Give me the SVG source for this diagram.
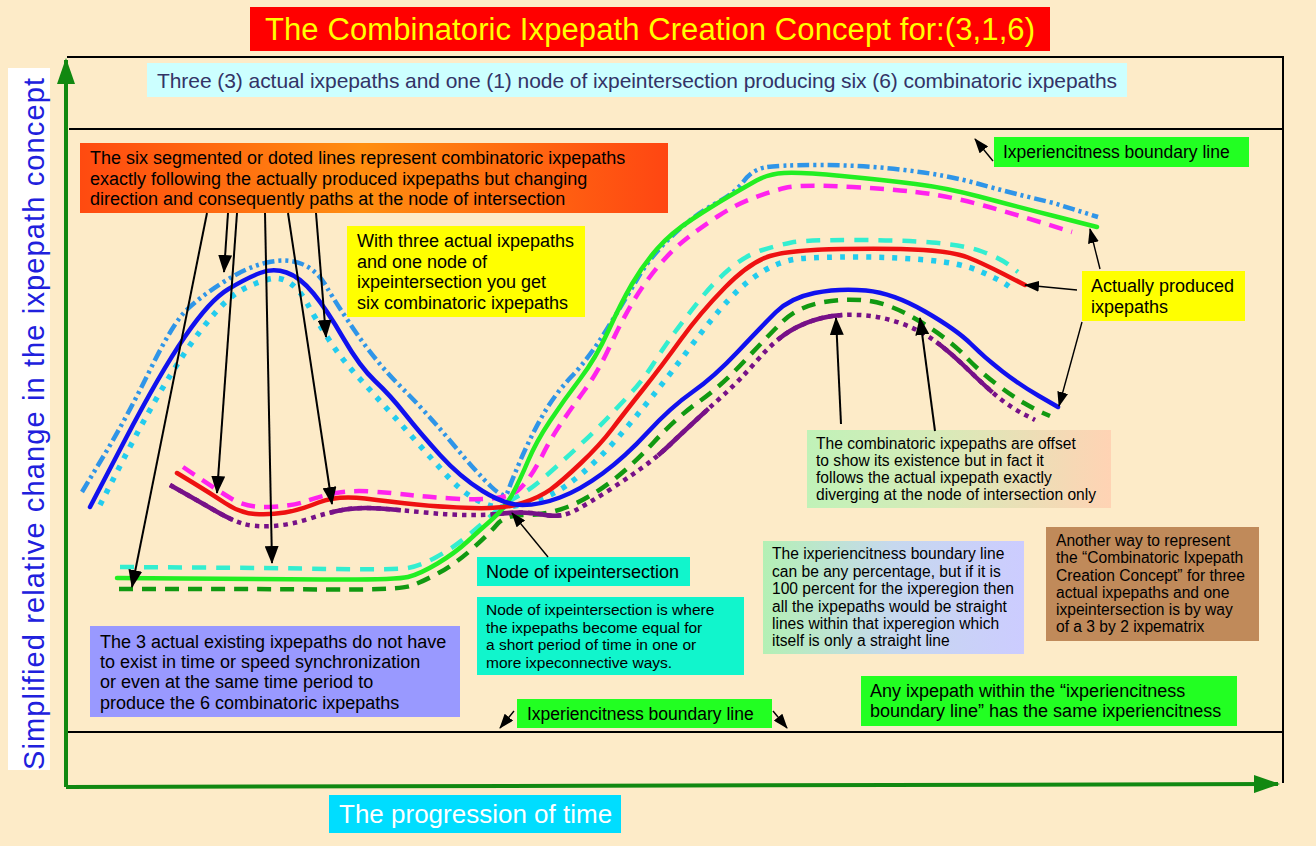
<svg xmlns="http://www.w3.org/2000/svg" width="1316" height="846" viewBox="0 0 1316 846">
<defs>
<style>
text{font-family:"Liberation Sans",Arial,sans-serif;fill:#000}
.t16{font-size:18px}
.t14{font-size:15.6px}
.frame{stroke:#000;stroke-width:2;fill:none}
.c{fill:none;stroke-linejoin:round}
.act{stroke-width:4.5;stroke-linecap:round}
.arr{stroke:#000;stroke-width:2;fill:none;marker-end:url(#ah)}
.arr2{stroke:#000;stroke-width:1.4;fill:none;marker-end:url(#ah2)}
</style>
<marker id="ah" markerUnits="userSpaceOnUse" markerWidth="18" markerHeight="14" refX="17" refY="7" orient="auto"><path d="M0,0L18,7L0,14z" fill="#000"/></marker>
<marker id="ah2" markerUnits="userSpaceOnUse" markerWidth="15" markerHeight="11" refX="14" refY="5.5" orient="auto"><path d="M0,0L15,5.5L0,11z" fill="#000"/></marker>
<marker id="gah" markerUnits="userSpaceOnUse" markerWidth="26" markerHeight="18" refX="24" refY="9" orient="auto"><path d="M0,0L26,9L0,18z" fill="#118811"/></marker>
<linearGradient id="gOr" x1="0" y1="0" x2="1" y2="0"><stop offset="0" stop-color="#FF4A10"/><stop offset="0.48" stop-color="#FF8E10"/><stop offset="1" stop-color="#FF4612"/></linearGradient>
<linearGradient id="gGp" x1="0" y1="0" x2="1" y2="0"><stop offset="0" stop-color="#C0F2B8"/><stop offset="0.45" stop-color="#D8EAB8"/><stop offset="1" stop-color="#FFD3B4"/></linearGradient>
<linearGradient id="gGl" x1="0" y1="0" x2="1" y2="0"><stop offset="0" stop-color="#B4F0B4"/><stop offset="0.5" stop-color="#C6D8EE"/><stop offset="1" stop-color="#CCCCFF"/></linearGradient>
</defs>
<rect width="1316" height="846" fill="#FDEBC8"/>

<g id="frame">
<path class="frame" d="M67,57H1283V783"/>
<path class="frame" d="M69,129H1283"/>
<path class="frame" d="M66,732H1283"/>
<line x1="66" y1="787" x2="1278" y2="784" stroke="#118811" stroke-width="4" marker-end="url(#gah)"/>
<line x1="66" y1="787" x2="66" y2="60" stroke="#118811" stroke-width="4" marker-end="url(#gah)"/>
</g>

<g id="title">
<rect x="250" y="7" width="800" height="44" fill="#FF0000"/>
<text x="650" y="40" text-anchor="middle" textLength="770" style="font-size:31px;fill:#FFFF00">The Combinatoric Ixpepath Creation Concept for:(3,1,6)</text>
</g>

<g id="subtitle">
<rect x="147" y="63" width="980" height="34" fill="#CCFFFF"/>
<text x="157" y="88" textLength="960" style="font-size:21px;fill:#333366">Three (3) actual ixpepaths and one (1) node of ixpeintersection producing six (6) combinatoric ixpepaths</text>
</g>

<g id="ylabel">
<rect x="8" y="68" width="42" height="702" fill="#FFFFFF"/>
<text transform="translate(44,424) rotate(-90)" text-anchor="middle" textLength="692" style="font-size:29px;fill:#2020DD">Simplified relative change in the ixpepath concept</text>
</g>

<g id="xlabel">
<rect x="329" y="795" width="292" height="38" fill="#00DDFF"/>
<text x="339" y="823" style="font-size:26px;fill:#FFFFFF">The progression of time</text>
</g>

<g id="ixpepaths">
<path class="c" stroke="#2F95E8" stroke-width="4.5" stroke-dasharray="12 4 3 4 3 4" d="M82,492 L104.5,454.5 Q127,417 150,370 Q173,323 186.5,310 Q200,297 223.5,282 Q247,267 267,262.5 Q287,258 302,264 Q317,270 327,287.5 Q337,305 357,334 Q377,363 402,388 Q427,413 452,443 Q477,473 491,486.5 Q505,500 507.5,492.5 Q510,485 519.5,462.5 Q529,440 541.5,417.5 Q554,395 571.5,376.5 Q589,358 607,329 Q625,300 637.5,278.5 Q650,257 672,236 Q694,215 714.5,204 Q735,193 743.5,181.5 Q752,170 764.5,167.5 Q777,165 819.5,165 Q862,165 904.5,170 Q947,175 979,184 Q1011,193 1053.5,203 L1098,217"/>
<path class="c" stroke="#22CCEE" stroke-width="5.5" stroke-dasharray="5 8" d="M100,505 L120,466 Q140,427 155,401 Q170,375 185,352.5 Q200,330 215,313 Q230,296 242.5,289.5 Q255,283 267.5,279.5 Q280,276 290,283 Q300,290 307.5,304 Q315,318 327.5,337.5 Q340,357 355,373.5 Q370,390 385,406.5 Q400,423 415,440 Q430,457 445,473.5 Q460,490 472.5,497.5 Q485,505 495,506.5 Q505,508 520,505 Q535,502 550,495 Q565,488 582.5,473 Q600,458 617.5,438 Q635,418 653,395.5 Q671,373 691.5,345.5 Q712,318 728.5,300 Q745,282 763.5,271 Q782,260 801.5,258.5 Q821,257 857,257 Q893,257 927,260 Q961,263 980.5,271.5 Q1000,280 1007,285 L1014,290"/>
<path class="c" stroke="#FF22EE" stroke-width="4.5" stroke-dasharray="14 9" d="M183,467 L200,478.5 Q217,490 232,499 Q247,508 270,507 Q293,506 305,501.5 Q317,497 333.5,493.5 Q350,490 371.5,491.5 Q393,493 410,495 Q427,497 452,498.5 Q477,500 492,498.5 Q507,497 513.5,493.5 Q520,490 527.5,480 Q535,470 542.5,455 Q550,440 560,425 Q570,410 584,391 Q598,372 610,346 Q622,320 633.5,301 Q645,282 658.5,266 Q672,250 686,239 Q700,228 717.5,216.5 Q735,205 752,198.5 Q769,192 784.5,188 Q800,184 852.5,187 Q905,190 930.5,194 Q956,198 983.5,205.5 Q1011,213 1041.5,222.5 L1072,232"/>
<path class="c" stroke="#33EED0" stroke-width="4.5" stroke-dasharray="14 10" d="M120,567 L195,567.5 Q270,568 333,569 Q396,570 408,568 Q420,566 436.5,557 Q453,548 468,535.5 Q483,523 494,513 Q505,503 517.5,496.5 Q530,490 547,475 Q564,460 580,445 Q596,430 607,418.5 Q618,407 630.5,393.5 Q643,380 653.5,363.5 Q664,347 675,332 Q686,317 700,299.5 Q714,282 730,268.5 Q746,255 762.5,250 Q779,245 791.5,242.5 Q804,240 852,240 Q900,240 932,242.5 Q964,245 982,251.5 Q1000,258 1009,265 L1018,272"/>
<path class="c" stroke="#119911" stroke-width="4.5" stroke-dasharray="14 9" d="M119,589 L189.5,589 Q260,589 330,589.5 Q400,590 412,585.5 Q424,581 439.5,572.5 Q455,564 472,549 Q489,534 497,524.5 Q505,515 525.5,515 Q546,515 566,507.5 Q586,500 608.5,483.5 Q631,467 654,442 Q677,417 698.5,402 Q720,387 743.5,362 Q767,337 781.5,322.5 Q796,308 819,303 Q842,298 866,300.5 Q890,303 920,321.5 Q950,340 964,355 Q978,370 995,383 Q1012,396 1024,403 Q1036,410 1043,413 L1050,416"/>
<path class="c" stroke="#771188" stroke-width="4.5" stroke-dasharray="4.5 5" d="M170,485 L185,493.5 Q200,502 216.5,511.5 Q233,521 244,524 Q255,527 272.5,526 Q290,525 310,518.5 Q330,512 345,509.5 Q360,507 380,508.5 Q400,510 425,512.5 Q450,515 470,515 Q490,515 497.5,514 Q505,513 517.5,512.5 Q530,512 545.5,515 Q561,518 575,510.5 Q589,503 607,491.5 Q625,480 641,468.5 Q657,457 668.5,446 Q680,435 693.5,422.5 Q707,410 723.5,395 Q740,380 757.5,360 Q775,340 790,331 Q805,322 822,318 Q839,314 859.5,315 Q880,316 900,323 Q920,330 935,341 Q950,352 969.5,371 Q989,390 1000.5,399 Q1012,408 1023.5,414 L1035,420"/>
<path class="c" stroke="#771188" stroke-width="4.5" stroke-dasharray="72 100 71 90 71 114 69 98 70 103 72 400" d="M170,485 L185,493.5 Q200,502 216.5,511.5 Q233,521 244,524 Q255,527 272.5,526 Q290,525 310,518.5 Q330,512 345,509.5 Q360,507 380,508.5 Q400,510 425,512.5 Q450,515 470,515 Q490,515 497.5,514 Q505,513 517.5,512.5 Q530,512 545.5,515 Q561,518 575,510.5 Q589,503 607,491.5 Q625,480 641,468.5 Q657,457 668.5,446 Q680,435 693.5,422.5 Q707,410 723.5,395 Q740,380 757.5,360 Q775,340 790,331 Q805,322 822,318 Q839,314 859.5,315 Q880,316 900,323 Q920,330 935,341 Q950,352 969.5,371 Q989,390 1000.5,399 Q1012,408 1023.5,414 L1035,420"/>
<path class="c act" stroke="#22EE22" d="M117,578 L183.5,578.5 Q250,579 323,579.5 Q396,580 408,577 Q420,574 437.5,563.5 Q455,553 467.5,541.5 Q480,530 492.5,519 Q505,508 512.5,494 Q520,480 528,461 Q536,442 550,421 Q564,400 580,379 Q596,358 608.5,330.5 Q621,303 632,284 Q643,265 657,249 Q671,233 692.5,219 Q714,205 729.5,196 Q745,187 756.5,180.5 Q768,174 784,173 Q800,172 842,176 Q884,180 915.5,184 Q947,188 979,196.5 Q1011,205 1054,216 L1097,227"/>
<path class="c act" stroke="#EE1111" d="M177,473 L193.5,483 Q210,493 225,503 Q240,513 255,514 Q270,515 285,512.5 Q300,510 318.5,502.5 Q337,495 365,498.5 Q393,502 416.5,504.5 Q440,507 472.5,508 Q505,509 522.5,503 Q540,497 550.5,489.5 Q561,482 580.5,463.5 Q600,445 612.5,428.5 Q625,412 643,389.5 Q661,367 680.5,340 Q700,313 725,287.5 Q750,262 770,256 Q790,250 841.5,249 Q893,248 923.5,250 Q954,252 968,257.5 Q982,263 1003.5,274 L1025,285"/>
<path class="c act" stroke="#1111EE" d="M90,507 L125,440 Q160,373 185,336.5 Q210,300 228.5,289 Q247,278 260,273 Q273,268 286.5,272.5 Q300,277 313.5,293.5 Q327,310 343.5,338.5 Q360,367 375,381 Q390,395 405,414 Q420,433 440,455 Q460,477 482.5,491 Q505,505 522.5,505 Q540,505 560,497.5 Q580,490 602.5,473.5 Q625,457 648,432 Q671,407 692.5,392 Q714,377 737.5,352 Q761,327 775.5,312.5 Q790,298 814.5,293 Q839,288 866,290.5 Q893,293 925,311.5 Q957,330 971,344 Q985,358 1002.5,371.5 Q1020,385 1039,396 L1058,407"/>
</g>

<g id="n-six-lines">
<rect x="80" y="143" width="588" height="70" fill="url(#gOr)"/>
<text class="t16" x="90" y="164">The six segmented or doted lines represent combinatoric ixpepaths</text>
<text class="t16" x="90" y="185">exactly following the actually produced ixpepaths but changing</text>
<text class="t16" x="90" y="205">direction and consequently paths at the node of intersection</text>
</g>

<g id="n-boundary-top">
<rect x="994" y="137" width="255" height="30" fill="#22FF22"/>
<text x="1003" y="158" style="font-size:17.5px">Ixperiencitness boundary line</text>
</g>

<g id="n-with-three">
<rect x="347" y="226" width="238" height="91" fill="#FFFF00"/>
<text class="t16" x="357" y="247">With three actual ixpepaths</text>
<text class="t16" x="357" y="268">and one node of</text>
<text class="t16" x="357" y="288">ixpeintersection you get</text>
<text class="t16" x="357" y="309">six combinatoric ixpepaths</text>
</g>

<g id="n-actual">
<rect x="1082" y="271" width="163" height="50" fill="#FFFF00"/>
<text class="t16" x="1091" y="292">Actually produced</text>
<text class="t16" x="1091" y="313">ixpepaths</text>
</g>

<g id="n-offset">
<rect x="807" y="430" width="304" height="78" fill="url(#gGp)"/>
<text class="t14" x="816" y="449">The combinatoric ixpepaths are offset</text>
<text class="t14" x="816" y="466">to show its existence but in fact it</text>
<text class="t14" x="816" y="483">follows the actual ixpepath exactly</text>
<text class="t14" x="816" y="500">diverging at the node of intersection only</text>
</g>

<g id="n-node">
<rect x="477" y="557" width="213" height="29" fill="#11F5CC"/>
<text class="t16" x="486" y="578">Node of ixpeintersection</text>
</g>

<g id="n-node-desc">
<rect x="477" y="597" width="267" height="78" fill="#11F5CC"/>
<text style="font-size:15.5px" x="486" y="615">Node of ixpeintersection is where</text>
<text style="font-size:15.5px" x="486" y="633">the ixpepaths become equal for</text>
<text style="font-size:15.5px" x="486" y="650">a short period of time in one or</text>
<text style="font-size:15.5px" x="486" y="668">more ixpeconnective ways.</text>
</g>

<g id="n-three-actual">
<rect x="90" y="626" width="370" height="91" fill="#9999FF"/>
<text class="t16" x="100" y="648">The 3 actual existing ixpepaths do not have</text>
<text class="t16" x="100" y="668">to exist in time or speed synchronization</text>
<text class="t16" x="100" y="688">or even at the same time period to</text>
<text class="t16" x="100" y="709">produce the 6 combinatoric ixpepaths</text>
</g>

<g id="n-percentage">
<rect x="763" y="541" width="261" height="113" fill="url(#gGl)"/>
<text class="t14" x="772" y="559">The ixperiencitness boundary line</text>
<text class="t14" x="772" y="577">can be any percentage, but if it is</text>
<text class="t14" x="772" y="594">100 percent for the ixperegion then</text>
<text class="t14" x="772" y="612">all the ixpepaths would be straight</text>
<text class="t14" x="772" y="629">lines within that ixperegion which</text>
<text class="t14" x="772" y="646">itself is only a straight line</text>
</g>

<g id="n-matrix">
<rect x="1046" y="527" width="213" height="114" fill="#C08A5A"/>
<text class="t14" x="1056" y="546">Another way to represent</text>
<text class="t14" x="1056" y="563">the “Combinatoric Ixpepath</text>
<text class="t14" x="1056" y="581">Creation Concept” for three</text>
<text class="t14" x="1056" y="598">actual ixpepaths and one</text>
<text class="t14" x="1056" y="615">ixpeintersection is by way</text>
<text class="t14" x="1056" y="632">of a 3 by 2 ixpematrix</text>
</g>

<g id="n-any-ixpepath">
<rect x="861" y="676" width="376" height="50" fill="#22FF22"/>
<text class="t16" x="870" y="697">Any ixpepath within the “ixperiencitness</text>
<text class="t16" x="870" y="717">boundary line” has the same ixperiencitness</text>
</g>

<g id="n-boundary-bottom">
<rect x="517" y="699" width="255" height="29" fill="#22FF22"/>
<text x="527" y="720" style="font-size:17.5px">Ixperiencitness boundary line</text>
</g>

<g id="connectors">
<line class="arr" x1="207" y1="213" x2="132" y2="587"/>
<line class="arr" x1="228" y1="213" x2="224" y2="272"/>
<line class="arr" x1="237" y1="213" x2="217" y2="493"/>
<line class="arr" x1="265" y1="213" x2="272" y2="563"/>
<line class="arr" x1="288" y1="213" x2="332" y2="504"/>
<line class="arr" x1="316" y1="213" x2="326" y2="337"/>
<line class="arr2" x1="548" y1="557" x2="512" y2="513"/>
<line class="arr2" x1="993" y1="161" x2="975" y2="139"/>
<line class="arr2" x1="514" y1="711" x2="500" y2="728"/>
<line class="arr2" x1="773" y1="711" x2="787" y2="728"/>
<line class="arr2" x1="1100" y1="269" x2="1090" y2="229"/>
<line class="arr2" x1="1077" y1="290" x2="1025" y2="285"/>
<line class="arr2" x1="1082" y1="322" x2="1059" y2="406"/>
<line class="arr" x1="841" y1="424" x2="836" y2="318"/>
<line class="arr" x1="935" y1="431" x2="920" y2="318"/>
</g>
</svg>
